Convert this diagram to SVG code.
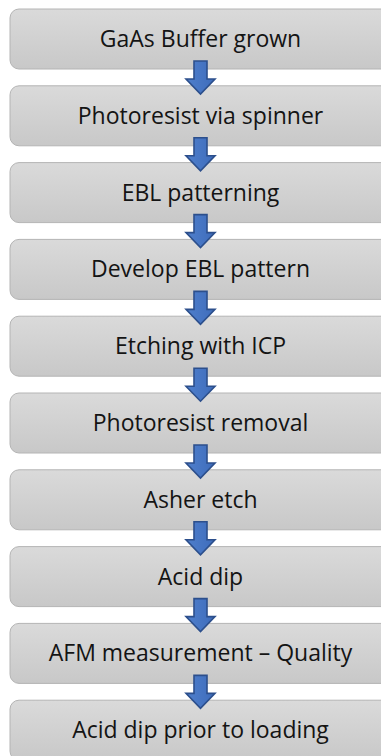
<svg xmlns="http://www.w3.org/2000/svg" xmlns:xlink="http://www.w3.org/1999/xlink" width="381" height="756" viewBox="0 0 381 756">
  <style>
    .box { fill: url(#boxFill); stroke: #b4b4b4; stroke-width: 1; }
    .lbl { font-family: "Open Sans", "Noto Sans", "Liberation Sans", sans-serif; font-size: 23px; fill: #141414; text-anchor: middle; }
    .arrow { fill: url(#arrowFill); stroke: #2c4f8c; stroke-width: 1.6; stroke-linejoin: miter; }
  </style>
  <defs>
    <linearGradient id="boxFill" x1="0" y1="0" x2="0" y2="1">
      <stop offset="0" stop-color="#dadada"/>
      <stop offset="1" stop-color="#c8c8c8"/>
    </linearGradient>
    <linearGradient id="arrowFill" x1="0" y1="0" x2="1" y2="0">
      <stop offset="0" stop-color="#4f7fcc"/>
      <stop offset="1" stop-color="#3e6cbb"/>
    </linearGradient>
    <!-- down arrow, placed relative to the top of the upper step box -->
    <path id="down" class="arrow" d="M194,52 H207 V70 H215 L200.5,85 L186,70 H194 Z"/>
  </defs>

  <rect width="381" height="756" fill="#ffffff"/>

  <g id="steps">
    <g id="step1"><rect class="box" x="10" y="9" width="381" height="60" rx="9"/><text class="lbl" x="200.5" y="47">GaAs Buffer grown</text></g>
    <g id="step2"><rect class="box" x="10" y="85.8" width="381" height="60" rx="9"/><text class="lbl" x="200.5" y="123.8">Photoresist via spinner</text></g>
    <g id="step3"><rect class="box" x="10" y="162.6" width="381" height="60" rx="9"/><text class="lbl" x="200.5" y="200.6">EBL patterning</text></g>
    <g id="step4"><rect class="box" x="10" y="239.4" width="381" height="60" rx="9"/><text class="lbl" x="200.5" y="277.4">Develop EBL pattern</text></g>
    <g id="step5"><rect class="box" x="10" y="316.2" width="381" height="60" rx="9"/><text class="lbl" x="200.5" y="354.2">Etching with ICP</text></g>
    <g id="step6"><rect class="box" x="10" y="393" width="381" height="60" rx="9"/><text class="lbl" x="200.5" y="431">Photoresist removal</text></g>
    <g id="step7"><rect class="box" x="10" y="469.8" width="381" height="60" rx="9"/><text class="lbl" x="200.5" y="507.8">Asher etch</text></g>
    <g id="step8"><rect class="box" x="10" y="546.6" width="381" height="60" rx="9"/><text class="lbl" x="200.5" y="584.6">Acid dip</text></g>
    <g id="step9"><rect class="box" x="10" y="623.4" width="381" height="60" rx="9"/><text class="lbl" x="200.5" y="661.4">AFM measurement – Quality</text></g>
    <g id="step10"><rect class="box" x="10" y="700.2" width="381" height="60" rx="9"/><text class="lbl" x="200.5" y="738.2">Acid dip prior to loading</text></g>
  </g>

  <g id="connectors">
    <use xlink:href="#down" transform="translate(0,9)"/>
    <use xlink:href="#down" transform="translate(0,85.8)"/>
    <use xlink:href="#down" transform="translate(0,162.6)"/>
    <use xlink:href="#down" transform="translate(0,239.4)"/>
    <use xlink:href="#down" transform="translate(0,316.2)"/>
    <use xlink:href="#down" transform="translate(0,393)"/>
    <use xlink:href="#down" transform="translate(0,469.8)"/>
    <use xlink:href="#down" transform="translate(0,546.6)"/>
    <use xlink:href="#down" transform="translate(0,623.4)"/>
  </g>
</svg>
